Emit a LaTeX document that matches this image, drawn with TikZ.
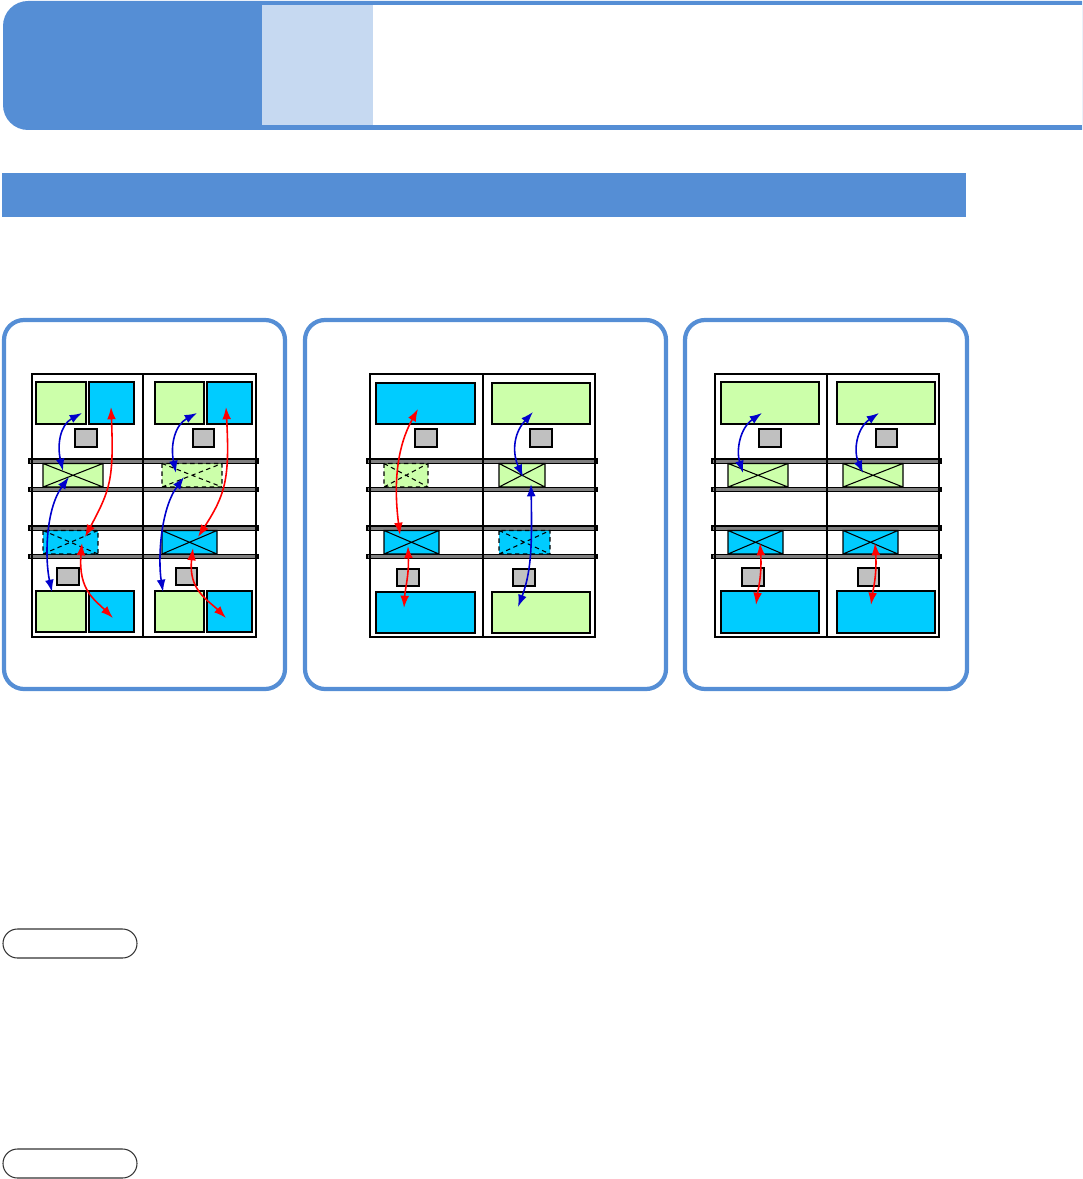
\documentclass[tikz,border=0pt]{standalone}
\usetikzlibrary{arrows.meta}

\definecolor{kopfblau}{RGB}{85,142,213}
\definecolor{hellblau}{RGB}{198,217,241}
\definecolor{gruen}{RGB}{204,255,170}
\definecolor{cyanblau}{RGB}{0,204,255}
\definecolor{grau}{RGB}{192,192,192}
\definecolor{pfeilblau}{RGB}{0,0,204}

% Kreuzbox: [Optionen]{Farbe}{x1}{y1}{x2}{y2}
\newcommand{\kreuz}[6][]{%
  \draw[xbox,#1,fill=#2] (#3,#4) rectangle (#5,#6) (#3,#4) -- (#5,#6) (#3,#6) -- (#5,#4);}

\begin{document}
\begin{tikzpicture}[x=0.02cm,y=-0.02cm,
    panel/.style={draw=kopfblau, line width=2.4pt, rounded corners=0.4cm},
    wall/.style={draw=black, line width=0.8pt},
    slab/.style={draw=black, fill=gray, line width=0.8pt},
    room/.style={draw=black, line width=1.2pt},
    unit/.style={draw=black, fill=grau, line width=1.1pt},
    xbox/.style={draw=black, line width=0.6pt},
    xdash/.style={dash pattern=on 2.5pt off 2pt},
    blaupfeil/.style={pfeilblau, line width=0.9pt, {Latex[length=7pt,width=5pt]}-{Latex[length=7pt,width=5pt]}},
    rotpfeil/.style={red, line width=0.9pt, {Latex[length=7pt,width=5pt]}-{Latex[length=7pt,width=5pt]}}]
    \useasboundingbox (0,0) rectangle (1082,1179);

    % Kopfzeile
    \fill[kopfblau, rounded corners=0.5cm] (1082,1) -- (3,1) -- (3,130) -- (1082,130);
    \fill[hellblau] (262,5) rectangle (373,125);
    \fill[white] (373,5) rectangle (1082,125);

    % Balken
    \fill[kopfblau] (2,173) rectangle (966,217);

    % Rahmen der drei Felder
    \draw[panel] (4,320) rectangle (285,689);
    \draw[panel] (305,320) rectangle (666,689);
    \draw[panel] (685,320) rectangle (967,689);

    % Decken
    \foreach \l/\r in {32/256, 370/595, 715/939}
      \foreach \y in {461, 489.5, 528, 556.5}
        \draw[slab] (\l-3,\y-2.2) rectangle (\r+2,\y+2.2);

    % Gebaeude
    \foreach \l/\m/\r in {32/143/256, 370/483/595, 715/827/939}
      \draw[wall] (\l,374) rectangle (\r,637) (\m,374) -- (\m,637);

    % Feld 1
    \draw[room, fill=gruen] (36,382) rectangle (86,424);
    \draw[room, fill=cyanblau] (89,382) rectangle (134,424);
    \draw[room, fill=gruen] (155,382) rectangle (204,424);
    \draw[room, fill=cyanblau] (207,382) rectangle (252,424);
    \draw[unit] (75,429) rectangle (97,447);
    \draw[unit] (193,429) rectangle (214,447);
    \kreuz{gruen}{43}{463.5}{103}{487}
    \kreuz[xdash]{gruen}{162}{463.5}{222}{487}
    \kreuz[xdash]{cyanblau}{43}{530.5}{98}{554}
    \kreuz{cyanblau}{162}{530.5}{217}{554}
    \draw[unit] (57,568) rectangle (79,585);
    \draw[unit] (176,568) rectangle (197,585);
    \draw[room, fill=gruen] (36,591) rectangle (86,632);
    \draw[room, fill=cyanblau] (89,591) rectangle (134,632);
    \draw[room, fill=gruen] (155,591) rectangle (204,632);
    \draw[room, fill=cyanblau] (207,591) rectangle (252,632);

    % Feld 2
    \draw[room, fill=cyanblau] (376,383) rectangle (475,424);
    \draw[room, fill=gruen] (492,383) rectangle (590,424);
    \draw[unit] (415,429) rectangle (437,447);
    \draw[unit] (530,429) rectangle (552,447);
    \kreuz[xdash]{gruen}{384}{463.5}{428}{487}
    \kreuz{gruen}{499}{463.5}{545}{487}
    \kreuz{cyanblau}{384}{530.5}{439}{554}
    \kreuz[xdash]{cyanblau}{499}{530.5}{550}{554}
    \draw[unit] (397,569) rectangle (419,586);
    \draw[unit] (513,569) rectangle (535,586);
    \draw[room, fill=cyanblau] (376,592) rectangle (475,633);
    \draw[room, fill=gruen] (492,592) rectangle (590,633);

    % Feld 3
    \draw[room, fill=gruen] (721,382) rectangle (819,424);
    \draw[room, fill=gruen] (837,382) rectangle (935,424);
    \draw[unit] (759,429) rectangle (781,447);
    \draw[unit] (876,429) rectangle (897,447);
    \kreuz{gruen}{728}{463.5}{788}{487}
    \kreuz{gruen}{843}{463.5}{903}{487}
    \kreuz{cyanblau}{728}{530.5}{783}{554}
    \kreuz{cyanblau}{843}{530.5}{898}{554}
    \draw[unit] (742,568) rectangle (764,586);
    \draw[unit] (858,568) rectangle (879,586);
    \draw[room, fill=cyanblau] (721,591) rectangle (819,633);
    \draw[room, fill=cyanblau] (837,591) rectangle (935,633);

    % Endpunkte der Pfeile
    \coordinate (b1o) at (82,413);   \coordinate (b1x) at (63,471);
    \coordinate (b1y) at (69,477);   \coordinate (b1u) at (52,592);
    \coordinate (r1o) at (111,407);  \coordinate (r1x) at (85,537);
    \coordinate (r1y) at (82,543);   \coordinate (r1u) at (113,618);
    \coordinate (b2o) at (197,413);  \coordinate (b2x) at (176,473);
    \coordinate (b2y) at (184,477);  \coordinate (b2u) at (163,592);
    \coordinate (r2o) at (226,407);  \coordinate (r2x) at (198,537);
    \coordinate (r2y) at (193,548);  \coordinate (r2u) at (226,618);
    \coordinate (r3o) at (418,409);  \coordinate (r3x) at (400,535);
    \coordinate (r3y) at (408,546);  \coordinate (r3u) at (404,608);
    \coordinate (b3o) at (533,412);  \coordinate (b3x) at (523,477);
    \coordinate (b3y) at (531,484);  \coordinate (b3u) at (518,607);
    \coordinate (b4o) at (762,413);  \coordinate (b4x) at (743,473);
    \coordinate (b5o) at (879,413);  \coordinate (b5x) at (863,473);
    \coordinate (r4y) at (760,543);  \coordinate (r4u) at (756,605);
    \coordinate (r5y) at (875,543);  \coordinate (r5u) at (871,605);

    % Pfeile
    \draw[blaupfeil] (b1x) .. controls (57,445) and (60,425) .. (b1o);
    \draw[blaupfeil] (b1y) .. controls (45,510) and (45,560) .. (b1u);
    \draw[rotpfeil] (r1o) .. controls (114,480) and (110,490) .. (r1x);
    \draw[rotpfeil] (r1y) .. controls (78,590) and (95,600) .. (r1u);
    \draw[blaupfeil] (b2x) .. controls (170,445) and (175,425) .. (b2o);
    \draw[blaupfeil] (b2y) .. controls (160,510) and (158,560) .. (b2u);
    \draw[rotpfeil] (r2o) .. controls (230,480) and (225,495) .. (r2x);
    \draw[rotpfeil] (r2y) .. controls (188,590) and (208,600) .. (r2u);
    \draw[rotpfeil] (r3o) .. controls (398,445) and (393,480) .. (r3x);
    \draw[rotpfeil] (r3y) .. controls (409,575) and (405,590) .. (r3u);
    \draw[blaupfeil] (b3o) .. controls (512,435) and (513,455) .. (b3x);
    \draw[blaupfeil] (b3y) .. controls (532,540) and (532,570) .. (b3u);
    \draw[blaupfeil] (b4o) .. controls (740,428) and (736,450) .. (b4x);
    \draw[blaupfeil] (b5o) .. controls (857,428) and (853,450) .. (b5x);
    \draw[rotpfeil] (r4y) .. controls (762,575) and (758,590) .. (r4u);
    \draw[rotpfeil] (r5y) .. controls (877,575) and (873,590) .. (r5u);

    % Kapseln unten
    \draw[black!80, line width=0.6pt, rounded corners=0.29cm] (3,929) rectangle (137,958);
    \draw[black!80, line width=0.6pt, rounded corners=0.29cm] (3,1149) rectangle (137,1178);
\end{tikzpicture}
\end{document}
